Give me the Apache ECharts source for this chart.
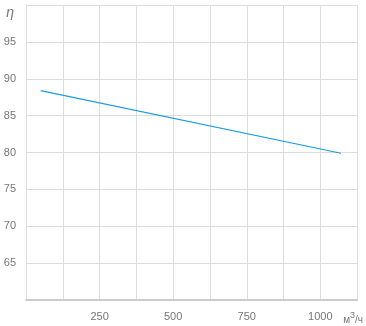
<!DOCTYPE html>
<html>
<head>
<meta charset="utf-8">
<script src="https://cdn.jsdelivr.net/npm/echarts@6/dist/echarts.min.js"></script>
<style>
html,body{margin:0;padding:0;background:#fff;}
#c{width:366px;height:326px;}
</style>
</head>
<body>
<div id="c"></div>
<script>
const flowValues = [50, 1070];
const etaValues = [88.4, 79.9];
const xTickLabels = ['250', '500', '750', '1000'];
const yTickLabels = ['65', '70', '75', '80', '85', '90', '95'];

const chart = echarts.init(document.getElementById('c'), null, {renderer: 'canvas'});
const labelColor = '#777';
chart.setOption({
  animation: false,
  grid: {left: 26, right: 5, top: 5, bottom: 26},
  xAxis: {
    type: 'value', min: 0, max: 1125, interval: 125,
    axisLine: {show: true, lineStyle: {color: '#ccc', width: 2}},
    axisTick: {show: false},
    splitLine: {show: true, lineStyle: {color: '#ddd', width: 1}},
    axisLabel: {
      color: labelColor, fontSize: 11, fontFamily: 'Arial, Liberation Sans, sans-serif', margin: 11,
      formatter: v => xTickLabels.includes(String(v)) ? String(v) : ''
    },
    name: 'м{sup|3}/ч',
    nameLocation: 'end',
    nameGap: -14,
    nameTextStyle: {
      color: labelColor, fontSize: 10, fontFamily: 'Arial, Liberation Sans, sans-serif',
      align: 'left', verticalAlign: 'top', padding: [11, 0, 0, 0],
      rich: {sup: {fontSize: 9, verticalAlign: 'bottom', padding: [0, 0, 9, 0], color: labelColor}}
    }
  },
  yAxis: {
    type: 'value', min: 60, max: 100, interval: 5,
    axisLine: {show: true, lineStyle: {color: '#ddd', width: 1}},
    axisTick: {show: false},
    splitLine: {show: true, lineStyle: {color: '#ddd', width: 1}},
    axisLabel: {
      color: labelColor, fontSize: 11, fontFamily: 'Arial, Liberation Sans, sans-serif', margin: 10,
      formatter: v => yTickLabels.includes(String(v)) ? String(v) : ''
    },
    name: 'η',
    nameLocation: 'end',
    nameGap: -8,
    nameTextStyle: {
      color: labelColor, fontSize: 14, fontStyle: 'italic', fontFamily: 'Arial, Liberation Sans, sans-serif',
      align: 'right', verticalAlign: 'middle', padding: [0, 12, 0, 0]
    }
  },
  series: [{
    type: 'line',
    data: flowValues.map((x, i) => [x, etaValues[i]]),
    showSymbol: false,
    lineStyle: {color: '#1a9be0', width: 1.2},
    itemStyle: {color: '#1a9be0'}
  }]
});
</script>
</body>
</html>
